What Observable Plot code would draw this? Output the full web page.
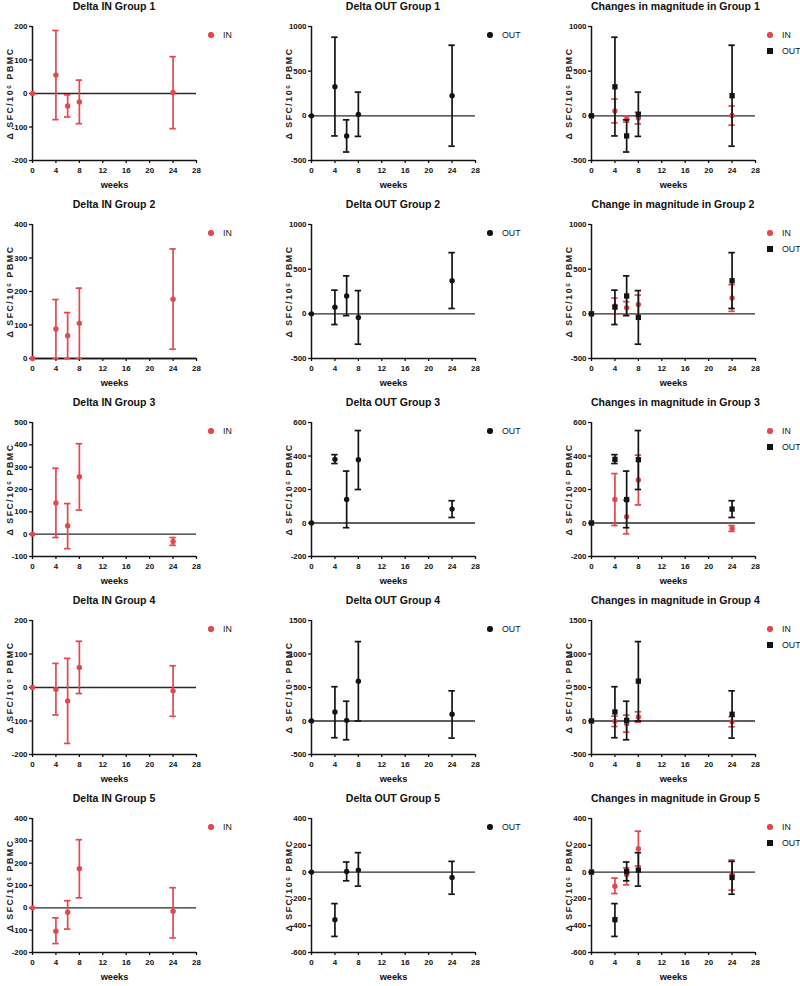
<!DOCTYPE html>
<html><head><meta charset="utf-8">
<script src="https://cdn.jsdelivr.net/npm/d3@7"></script>
<script src="https://cdn.jsdelivr.net/npm/@observablehq/plot@0.6"></script>
<style>
html,body{margin:0;padding:0;background:#fff;}
#root{position:relative;width:800px;height:986px;overflow:hidden;background:#fff;}
.cell{position:absolute;height:198px;}
.title{position:absolute;top:0;text-align:center;font-weight:bold;font-size:12px;line-height:12px;white-space:nowrap;color:#111;}
.leg{position:absolute;font-size:10px;line-height:10px;white-space:nowrap;color:#111;}
.sym{position:absolute;}
.plotwrap{position:absolute;top:12px;left:0;}
.plotwrap svg{max-width:none !important;display:block;}
</style></head><body><div id="root"></div>
<script>
// ---------- data ----------
const weeks = [0, 4, 6, 8, 24];
const xTicks = [0, 4, 8, 12, 16, 20, 24, 28];
const groups = [1, 2, 3, 4, 5];

const inMean = [[0, 55, -37, -25, 3], [0, 88, 68, 105, 177], [0, 140, 38, 257, -33], [0, -5, -40, 60, -10], [0, -105, -20, 175, -15]];
const inLow  = [[0, -78, -70, -90, -105], [0, 0, 0, 0, 28], [0, -15, -65, 108, -50], [0, -82, -167, -18, -86], [0, -160, -95, 45, -135]];
const inHigh = [[0, 188, -4, 40, 110], [0, 176, 137, 210, 327], [0, 295, 137, 405, -15], [0, 72, 87, 138, 65], [0, -45, 32, 305, 90]];

const outMean = [[0, 325, -225, 15, 225], [0, 75, 200, -40, 370], [0, 380, 140, 378, 83], [0, 135, 10, 595, 100], [0, -355, 5, 15, -40]];
const outLow  = [[0, -225, -405, -230, -340], [0, -120, -20, -340, 60], [0, 355, -28, 200, 33], [0, -250, -280, 0, -255], [0, -480, -65, -105, -165]];
const outHigh = [[0, 880, -45, 265, 790], [0, 265, 425, 260, 685], [0, 408, 310, 552, 133], [0, 512, 295, 1185, 450], [0, -235, 75, 145, 80]];

const inDomains  = [[-200, 200], [0, 400], [-100, 500], [-200, 200], [-200, 400]];
const inSteps    = [100, 100, 100, 100, 100];
const outDomains = [[-500, 1000], [-500, 1000], [-200, 600], [-500, 1500], [-600, 400]];
const outSteps   = [500, 500, 200, 500, 200];

const titlesIn  = ["Delta IN Group 1", "Delta IN Group 2", "Delta IN Group 3", "Delta IN Group 4", "Delta IN Group 5"];
const titlesOut = ["Delta OUT Group 1", "Delta OUT Group 2", "Delta OUT Group 3", "Delta OUT Group 4", "Delta OUT Group 5"];
const titlesChg = ["Changes in magnitude in Group 1", "Change in magnitude in Group 2", "Changes in magnitude in Group 3", "Changes in magnitude in Group 4", "Changes in magnitude in Group 5"];
const yLabel = "\u0394 SFC/10\u2076 PBMC";
const xLabel = "weeks";

// ---------- style ----------
const RED = "#e5474f", BLACK = "#141414";
function fontAvailable(name) {
  const c = document.createElement("canvas").getContext("2d");
  const s = "abcdefghijklmnopqrstuvwxyz0123456789ABCDEFGHIJ";
  return ["monospace", "serif"].some(base => {
    c.font = `40px ${base}`; const w0 = c.measureText(s).width;
    c.font = `40px "${name}", ${base}`; return c.measureText(s).width !== w0;
  });
}
const narrow = fontAvailable("Liberation Sans Narrow");
const FONT = narrow ? '"Liberation Sans Narrow", "Liberation Sans", Arial, sans-serif' : '"Liberation Sans", Arial, sans-serif';
const K = narrow ? 1 : 0.88;

const colLeft = [0, 279, 559], colWidth = [279, 280, 241];
const ML = 32, PW = 164, MR = 40, MT = 14, PH = 134, MB = 38;

function rows(g, mean, lo, hi) {
  return weeks.map((w, i) => ({week: w, mean: mean[g][i], lo: lo[g][i], hi: hi[g][i]}));
}

function seriesMarks(data, color, symbol) {
  const bars = data.filter(d => d.lo !== d.hi);
  return [
    Plot.ruleX(bars, {x: "week", y1: "lo", y2: "hi", stroke: color, strokeWidth: 1.7}),
    Plot.ruleY(bars, {y: "hi", x1: d => d.week - 0.55, x2: d => d.week + 0.55, stroke: color, strokeWidth: 1.7}),
    Plot.ruleY(bars, {y: "lo", x1: d => d.week - 0.55, x2: d => d.week + 0.55, stroke: color, strokeWidth: 1.7}),
    Plot.dot(data, {x: "week", y: "mean", r: symbol === "square" ? 3 : 2.7, symbol, fill: color, stroke: "none"})
  ];
}

function panel(col, row, title, domain, step, series, legend) {
  const root = document.getElementById("root");
  const cell = document.createElement("div");
  cell.className = "cell";
  cell.style.left = colLeft[col] + "px";
  cell.style.top = (row * 198) + "px";
  cell.style.width = colWidth[col] + "px";
  cell.style.fontFamily = FONT;

  const t = document.createElement("div");
  t.className = "title";
  t.style.left = ML + "px"; t.style.width = PW + "px";
  t.style.fontSize = (12 * K) + "px";
  t.textContent = title;
  cell.appendChild(t);

  const yTicks = d3.range(domain[0], domain[1] + step / 2, step);
  const marks = [
    Plot.ruleY([0], {stroke: "#2a2a2a", strokeWidth: 1.3}),
    Plot.ruleX([0], {stroke: BLACK, strokeWidth: 1.5}),
    Plot.ruleY([domain[0]], {stroke: BLACK, strokeWidth: 1.5}),
    Plot.axisY({ticks: yTicks, tickSize: 3, tickPadding: 2, label: null, tickFormat: d => String(d), stroke: BLACK, strokeWidth: 1.3}),
    Plot.axisX({ticks: xTicks, tickSize: 3, tickPadding: 3.5, label: null, stroke: BLACK, strokeWidth: 1.3}),
    Plot.text([yLabel], {text: d => d, frameAnchor: "left", textAnchor: "middle", lineAnchor: "middle", rotate: -90, dx: -22, fontSize: 10 * K, fill: "#222"}),
    Plot.text([xLabel], {text: d => d, frameAnchor: "bottom", lineAnchor: "middle", dy: 25, fontSize: 10.5 * K, fill: "#111"})
  ];
  for (const s of series) marks.push(...seriesMarks(s.data, s.color, s.symbol));

  const svg = Plot.plot({
    width: ML + PW + MR, height: MT + PH + MB,
    marginLeft: ML, marginRight: MR, marginTop: MT, marginBottom: MB,
    x: {domain: [0, 28]},
    y: {domain},
    style: {fontFamily: FONT, fontSize: (9 * K) + "px", fontWeight: "bold", color: "#111", background: "transparent", overflow: "visible"},
    marks
  });
  svg.querySelectorAll("text").forEach(el => {
    if (el.textContent.includes("SFC")) el.style.letterSpacing = "1.5px";
    el.textContent = el.textContent.replace("\u2212", "-");
  });
  const wrap = document.createElement("div");
  wrap.className = "plotwrap";
  wrap.appendChild(svg);
  cell.appendChild(wrap);

  legend.forEach((it, i) => {
    const cy = 12 + MT + 9 + i * 16;
    const cx = ML + 179;
    const sym = document.createElement("div");
    sym.className = "sym";
    const sz = it.symbol === "square" ? 5.2 : 5.4;
    sym.style.width = sz + "px"; sym.style.height = sz + "px";
    sym.style.left = (cx - sz / 2) + "px"; sym.style.top = (cy - sz / 2) + "px";
    sym.style.background = it.color;
    if (it.symbol !== "square") sym.style.borderRadius = "50%";
    cell.appendChild(sym);
    const lab = document.createElement("div");
    lab.className = "leg";
    lab.style.left = (cx + 12) + "px"; lab.style.top = (cy - 5) + "px";
    lab.style.fontSize = (10 * K) + "px";
    lab.textContent = it.label;
    cell.appendChild(lab);
  });
  root.appendChild(cell);
}

groups.forEach((g, r) => {
  const inData = rows(r, inMean, inLow, inHigh);
  const outData = rows(r, outMean, outLow, outHigh);
  panel(0, r, titlesIn[r], inDomains[r], inSteps[r],
    [{data: inData, color: RED, symbol: "circle"}],
    [{label: "IN", color: RED, symbol: "circle"}]);
  panel(1, r, titlesOut[r], outDomains[r], outSteps[r],
    [{data: outData, color: BLACK, symbol: "circle"}],
    [{label: "OUT", color: BLACK, symbol: "circle"}]);
  panel(2, r, titlesChg[r], outDomains[r], outSteps[r],
    [{data: inData, color: RED, symbol: "circle"}, {data: outData, color: BLACK, symbol: "square"}],
    [{label: "IN", color: RED, symbol: "circle"}, {label: "OUT", color: BLACK, symbol: "square"}]);
});
</script></body></html>
